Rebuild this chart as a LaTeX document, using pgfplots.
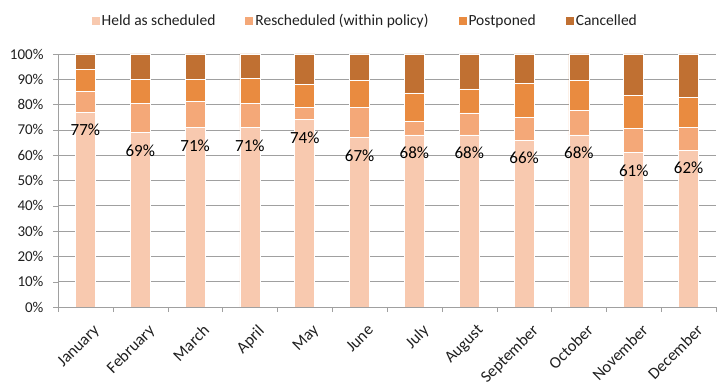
\documentclass[border=0pt]{standalone}
\usepackage{fontspec}
\setmainfont{Carlito}
\usepackage{pgfplots}
\pgfplotsset{compat=1.18}
\definecolor{held}{HTML}{F8C9AF}
\definecolor{resch}{HTML}{F4A878}
\definecolor{postp}{HTML}{E98B40}
\definecolor{canc}{HTML}{C07032}
\definecolor{gridc}{HTML}{A0A0A0}
\definecolor{txt}{HTML}{202020}
\pgfplotstableread{
x held resch postp canc
0 77 8.3 8.7 6.0
1 69 11.5 9.5 10.0
2 71 10.2 8.8 10.0
3 71 9.4 10.0 9.6
4 74 5.0 9.1 11.9
5 67 12.0 10.6 10.4
6 68 5.2 11.4 15.4
7 68 8.7 9.5 13.8
8 66 8.9 13.5 11.6
9 68 9.6 12.0 10.4
10 61 9.6 13.0 16.4
11 62 9.0 11.8 17.2
}\datatable
\pgfplotsset{
  common/.style={
    at={(58pt,84pt)}, anchor=south west,
    scale only axis, width=658pt, height=253pt,
    xmin=-0.5, xmax=11.5, ymin=0, ymax=100,
  }
}
\begin{document}
\begin{tikzpicture}
\path[use as bounding box] (0pt,0pt) rectangle (726pt,391pt);
\begin{axis}[
  common,
  ybar stacked, bar width=20pt,
  axis x line*=bottom, axis y line*=left,
  axis line style={gridc},
  tick align=outside,
  xtick={0,...,11},
  xticklabels={January,February,March,April,May,June,July,August,September,October,November,December},
  major x tick style={draw=none},
  minor xtick={-0.5,0.5,...,11.5},
  minor x tick style={gridc},
  minor tick length=5pt,
  ytick={0,10,...,100},
  ytick style={gridc},
  major tick length=5pt,
  yticklabel={\pgfmathprintnumber{\tick}\%},
  /pgf/number format/assume math mode=true,
  ymajorgrids, grid style={gridc, line width=0.6pt},
  xticklabel style={rotate=45, anchor=north east, font=\fontsize{16.5}{18}\selectfont, text=txt, inner sep=1pt, xshift=-2pt, yshift=-12pt},
  yticklabel style={font=\fontsize{15}{17}\selectfont, text=txt, xshift=-6pt},
  legend style={draw=none, at={(0.467,1)}, anchor=center, yshift=33pt,
    font=\fontsize{15.5}{17}\selectfont, text=txt,
    /tikz/every even column/.append style={column sep=28pt}},
  legend columns=4,
  legend image code/.code={\fill[#1, draw=none] (0pt,-4pt) rectangle (8pt,4pt);},
]
\addplot[fill=held, draw=white, line width=0.8pt] table[x=x, y=held] {\datatable};
\addplot[fill=resch, draw=white, line width=0.8pt] table[x=x, y=resch] {\datatable};
\addplot[fill=postp, draw=white, line width=0.8pt] table[x=x, y=postp] {\datatable};
\addplot[fill=canc, draw=white, line width=0.8pt] table[x=x, y=canc] {\datatable};
\legend{Held as scheduled, Rescheduled (within policy), Postponed, Cancelled}
\end{axis}
\begin{axis}[common, hide axis]
\addplot[draw=none, mark=none,
  nodes near coords={\pgfmathprintnumber[fixed,precision=0,assume math mode=true]{\pgfplotspointmeta}\%},
  every node near coord/.append style={anchor=center, yshift=-18pt, font=\fontsize{17}{19}\selectfont, text=black},
  ] table[x=x, y=held] {\datatable};
\end{axis}
\end{tikzpicture}
\end{document}
